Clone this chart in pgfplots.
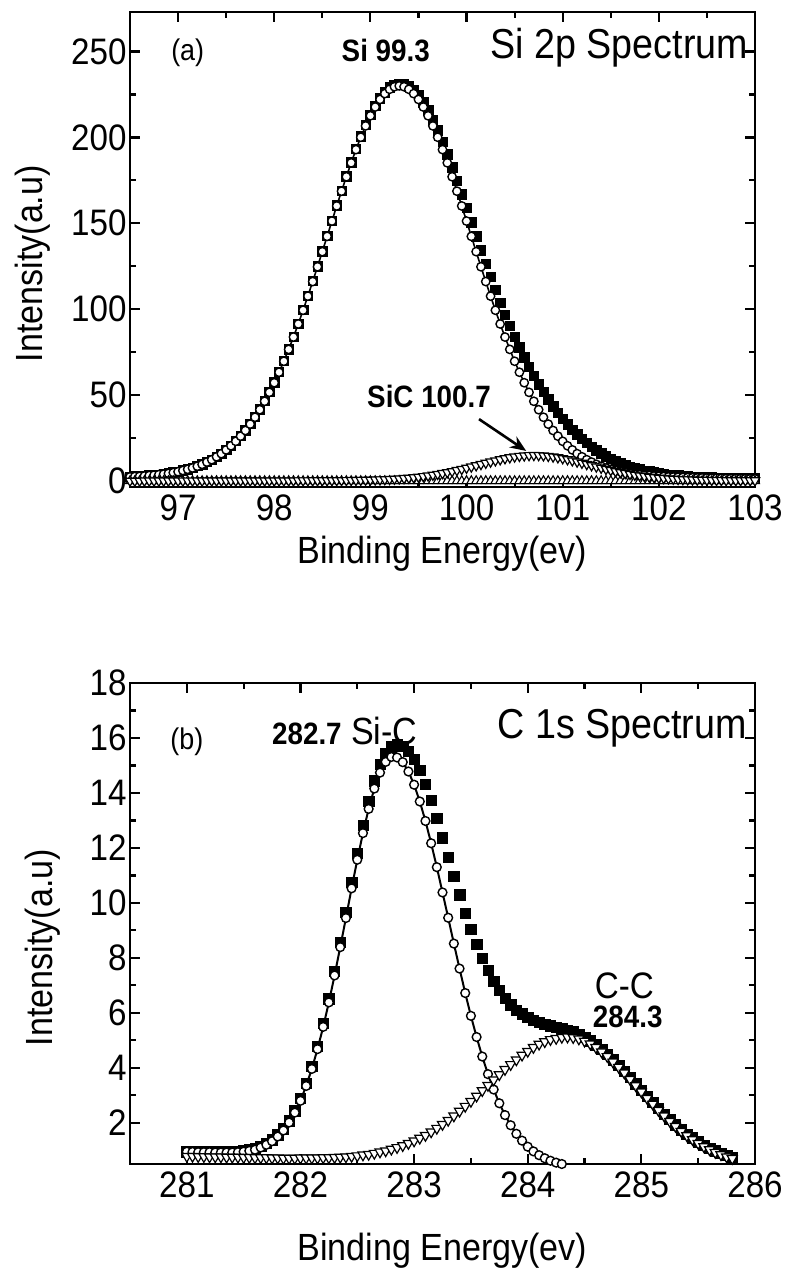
\documentclass[border=0pt]{standalone}
\usepackage{pgfplots}
\pgfplotsset{compat=1.18}
\usepackage{pgfplotstable}
\usepackage{fontspec}
\setmainfont{Liberation Sans}[FakeStretch=0.9]
\usetikzlibrary{arrows.meta}

\pgfplotstableread{
x sq ci tr bl
96.50 2.5 2.4 0.08 0
96.55 2.7 2.6 0.08 0
96.60 2.8 2.7 0.08 0
96.65 3.0 2.9 0.09 0
96.70 3.3 3.2 0.09 0
96.75 3.5 3.4 0.09 0
96.80 3.8 3.7 0.09 0
96.85 4.1 4.0 0.09 0
96.90 4.5 4.4 0.10 0
96.95 5.0 4.9 0.10 0
97.00 5.5 5.4 0.10 0
97.05 6.2 6.1 0.11 0
97.10 6.9 6.8 0.11 0
97.15 7.7 7.6 0.11 0
97.20 8.7 8.6 0.12 0
97.25 9.8 9.7 0.12 0
97.30 11.1 11.0 0.12 0
97.35 12.5 12.4 0.13 0
97.40 14.2 14.1 0.13 0
97.45 16.0 15.9 0.14 0
97.50 18.2 18.1 0.14 0
97.55 20.6 20.5 0.15 0
97.60 23.3 23.1 0.15 0
97.65 26.3 26.1 0.15 0
97.70 29.6 29.4 0.16 0
97.75 33.3 33.1 0.16 0
97.80 37.3 37.1 0.17 0
97.85 41.7 41.5 0.17 0
97.90 46.6 46.4 0.18 0
97.95 51.8 51.6 0.18 0
98.00 57.4 57.2 0.19 0
98.05 63.5 63.3 0.19 0
98.10 69.9 69.7 0.20 0
98.15 76.8 76.6 0.21 0
98.20 84.0 83.8 0.22 0
98.25 91.6 91.4 0.23 0
98.30 99.6 99.4 0.24 0
98.35 107.9 107.6 0.25 0
98.40 116.4 116.1 0.26 0
98.45 125.0 124.7 0.27 0
98.50 133.8 133.5 0.29 0
98.55 142.7 142.4 0.31 0
98.60 151.6 151.3 0.33 0
98.65 160.4 160.1 0.35 0
98.70 169.1 168.7 0.37 0
98.75 177.5 177.1 0.40 0
98.80 185.6 185.2 0.44 0
98.85 193.4 192.9 0.48 0
98.90 200.6 200.1 0.53 0
98.95 207.3 206.7 0.58 0
99.00 213.3 212.6 0.65 0
99.05 218.4 217.7 0.73 0
99.10 222.9 222.1 0.82 0
99.15 226.4 225.5 0.93 0
99.20 229.1 228.0 1.06 0
99.25 230.7 229.5 1.21 0
99.30 231.4 230.0 1.39 0
99.35 231.1 229.5 1.59 0
99.40 229.8 228.0 1.82 0
99.45 227.6 225.5 2.09 0
99.50 224.5 222.1 2.39 0
99.55 220.4 217.7 2.72 0
99.60 215.7 212.6 3.10 0
99.65 210.2 206.7 3.52 0
99.70 204.1 200.1 3.98 0
99.75 197.4 192.9 4.48 0
99.80 190.2 185.2 5.03 0
99.85 182.7 177.1 5.61 0
99.90 174.9 168.7 6.23 0
99.95 167.0 160.1 6.89 0
100.00 158.9 151.3 7.58 0
100.05 150.7 142.4 8.28 0
100.10 142.5 133.5 9.01 0
100.15 134.4 124.7 9.74 0
100.20 126.6 116.1 10.47 0
100.25 118.8 107.6 11.18 0
100.30 111.3 99.4 11.87 0
100.35 103.9 91.4 12.52 0
100.40 96.9 83.8 13.12 0
100.45 90.3 76.6 13.66 0
100.50 83.8 69.7 14.13 0
100.55 77.8 63.3 14.50 0
100.60 72.0 57.2 14.77 0
100.65 66.5 51.6 14.94 0
100.70 61.4 46.4 15.00 0
100.75 56.4 41.5 14.94 0
100.80 51.9 37.1 14.77 0
100.85 47.6 33.1 14.50 0
100.90 43.5 29.4 14.13 0
100.95 39.8 26.1 13.66 0
101.00 36.2 23.1 13.12 0
101.05 33.0 20.5 12.52 0
101.10 30.0 18.1 11.87 0
101.15 27.1 15.9 11.18 0
101.20 24.6 14.1 10.47 0
101.25 22.1 12.4 9.74 0
101.30 20.0 11.0 9.01 0
101.35 18.0 9.7 8.28 0
101.40 16.2 8.6 7.58 0
101.45 14.5 7.6 6.89 0
101.50 13.0 6.8 6.23 0
101.55 11.7 6.1 5.61 0
101.60 10.4 5.4 5.03 0
101.65 9.4 4.9 4.48 0
101.70 8.4 4.4 3.98 0
101.75 7.5 4.0 3.52 0
101.80 6.8 3.7 3.10 0
101.85 6.1 3.4 2.72 0
101.90 5.6 3.2 2.39 0
101.95 5.0 2.9 2.09 0
102.00 4.5 2.7 1.82 0
102.05 4.2 2.6 1.59 0
102.10 3.8 2.4 1.39 0
102.15 3.5 2.3 1.21 0
102.20 3.3 2.2 1.06 0
102.25 3.0 2.1 0.93 0
102.30 2.8 2.0 0.82 0
102.35 2.6 1.9 0.73 0
102.40 2.5 1.8 0.65 0
102.45 2.4 1.8 0.58 0
102.50 2.2 1.7 0.53 0
102.55 2.1 1.65 0.48 0
102.60 2.0 1.6 0.44 0
102.65 1.95 1.55 0.40 0
102.70 1.9 1.5 0.37 0
102.75 1.8 1.47 0.34 0
102.80 1.75 1.43 0.32 0
102.85 1.7 1.39 0.31 0
102.90 1.65 1.35 0.30 0
102.95 1.6 1.32 0.29 0
103.00 1.6 1.29 0.28 0
}\tabA

\pgfplotstableread{
x sq ci tr
281.00 0.95 0.95 0.78
281.05 0.95 0.94 0.78
281.10 0.94 0.93 0.77
281.15 0.94 0.93 0.77
281.20 0.94 0.93 0.76
281.25 0.93 0.92 0.76
281.30 0.94 0.92 0.76
281.35 0.94 0.92 0.75
281.40 0.95 0.92 0.75
281.45 0.96 0.93 0.75
281.50 0.99 0.95 0.74
281.55 1.02 0.98 0.74
281.60 1.07 1.02 0.73
281.65 1.14 1.10 0.73
281.70 1.25 1.20 0.73
281.75 1.38 1.33 0.72
281.80 1.56 1.50 0.72
281.85 1.78 1.72 0.71
281.90 2.08 2.01 0.71
281.95 2.44 2.37 0.71
282.00 2.89 2.80 0.72
282.05 3.43 3.34 0.72
282.10 4.06 3.96 0.72
282.15 4.79 4.68 0.72
282.20 5.62 5.49 0.73
282.25 6.52 6.38 0.73
282.30 7.52 7.36 0.74
282.35 8.57 8.39 0.75
282.40 9.65 9.45 0.76
282.45 10.75 10.53 0.78
282.50 11.81 11.57 0.80
282.55 12.82 12.54 0.83
282.60 13.70 13.42 0.85
282.65 14.45 14.16 0.89
282.70 15.05 14.74 0.94
282.75 15.45 15.13 0.98
282.80 15.68 15.31 1.04
282.85 15.76 15.29 1.10
282.90 15.70 15.12 1.17
282.95 15.52 14.78 1.25
283.00 15.22 14.30 1.34
283.05 14.82 13.69 1.44
283.10 14.32 12.98 1.54
283.15 13.74 12.17 1.67
283.20 13.07 11.30 1.80
283.25 12.37 10.38 1.94
283.30 11.66 9.46 2.09
283.35 10.96 8.52 2.25
283.40 10.29 7.61 2.42
283.45 9.63 6.72 2.60
283.50 9.04 5.89 2.78
283.55 8.49 5.12 2.97
283.60 7.99 4.41 3.17
283.65 7.54 3.77 3.36
283.70 7.16 3.21 3.56
283.75 6.82 2.71 3.75
283.80 6.54 2.28 3.94
283.85 6.29 1.91 4.12
283.90 6.10 1.60 4.29
283.95 5.96 1.35 4.46
284.00 5.83 1.13 4.60
284.05 5.73 0.96 4.74
284.10 5.66 0.82 4.86
284.15 5.58 0.71 4.95
284.20 5.53 0.62 5.03
284.25 5.47 0.55 5.07
284.30 5.44 0.50 5.11
284.35 5.37 nan 5.12
284.40 5.32 nan 5.10
284.45 5.22 nan 5.05
284.50 5.12 nan 4.97
284.55 4.99 nan 4.87
284.60 4.84 nan 4.74
284.65 4.67 nan 4.58
284.70 4.49 nan 4.41
284.75 4.29 nan 4.21
284.80 4.10 nan 4.02
284.85 3.88 nan 3.81
284.90 3.65 nan 3.58
284.95 3.42 nan 3.35
285.00 3.19 nan 3.12
285.05 2.96 nan 2.89
285.10 2.74 nan 2.68
285.15 2.52 nan 2.45
285.20 2.31 nan 2.25
285.25 2.12 nan 2.05
285.30 1.93 nan 1.87
285.35 1.75 nan 1.69
285.40 1.59 nan 1.53
285.45 1.45 nan 1.39
285.50 1.31 nan 1.25
285.55 1.19 nan 1.13
285.60 1.07 nan 1.02
285.65 0.98 nan 0.92
285.70 0.89 nan 0.84
285.75 0.82 nan 0.76
285.80 0.75 nan 0.70
}\tabB

\pgfplotsset{
  spec/.style={
    scale only axis, width=625bp,
    axis line style={line width=2.4bp},
    tick style={line width=2.2bp, black},
    major tick length=10bp, minor tick length=6bp,
    tick align=inside,
    minor x tick num=1, minor y tick num=1,
    xtick pos=both, ytick pos=both,
    ticklabel style={font=\fontsize{37}{40}\selectfont},
    xticklabel style={yshift=-4bp},
    /pgf/number format/assume math mode=true,
    /pgf/number format/1000 sep={},
    label style={font=\fontsize{38}{42}\selectfont},
    ylabel={Intensity(a.u)},
    xlabel={Binding Energy(ev)},
  },
  sqs/.style={only marks, mark=square*, mark size=#1, mark options={fill=black, draw=black, line width=0.5bp}},
  cis/.style={black, line width=1.6bp, mark=*, mark size=#1, mark options={fill=white, draw=black, line width=1.4bp}},
  trd/.style={only marks, mark=triangle*, mark size=#1, mark options={rotate=180, fill=white, draw=black, line width=1.2bp}},
  tru/.style={only marks, mark=triangle*, mark size=#1, mark options={fill=white, draw=black, line width=1.1bp}},
}

\begin{document}
\begin{tikzpicture}
\path[use as bounding box] (0,0) rectangle (791bp,-1276bp);

\begin{axis}[spec,
  at={(130bp,-487bp)}, anchor=south west, height=475bp,
  xmin=96.5, xmax=103, ymin=-3.5, ymax=273,
  xtick={97,98,...,103}, ytick={0,50,...,250},
  xlabel style={at={(axis description cs:0.5,-0.14)}, anchor=center},
  ylabel style={at={(axis description cs:-0.155,0.47)}, anchor=center},
]
\addplot[sqs=4.7bp] table[x=x,y=sq]{\tabA};
\addplot[cis=4.2bp] table[x=x,y=ci]{\tabA};
\addplot[tru=5.2bp] table[x=x,y=bl]{\tabA};
\addplot[trd=5.4bp] table[x=x,y=tr]{\tabA};
\node[font=\fontsize{30}{32}\selectfont] at (axis cs:97.1,249) {(a)};
\node[font=\fontsize{31}{33}\selectfont\bfseries] at (axis cs:99.16,250.5) {Si 99.3};
\node[font=\fontsize{42}{44}\selectfont, anchor=east, inner sep=0pt] at (axis cs:102.93,252) {Si 2p Spectrum};
\node[font=\fontsize{31}{33}\selectfont\bfseries] at (axis cs:99.61,49) {SiC 100.7};
\draw[-{Stealth[length=16bp,width=13bp]}, line width=2.6bp] (axis cs:100.13,36) -- (axis cs:100.62,17.5);
\end{axis}

\begin{axis}[spec,
  at={(130bp,-1164bp)}, anchor=south west, height=481bp,
  xmin=280.5, xmax=286, ymin=0.5, ymax=18,
  xtick={281,282,...,286}, ytick={2,4,...,18},
  xlabel style={at={(axis description cs:0.5,-0.18)}, anchor=center},
  ylabel style={at={(axis description cs:-0.139,0.45)}, anchor=center},
]
\addplot[sqs=5.2bp] table[x=x,y=sq]{\tabB};
\addplot[cis=4.4bp, line width=2bp] table[x=x,y=ci]{\tabB};
\addplot[trd=5.8bp] table[x=x,y=tr]{\tabB};
\node[font=\fontsize{30}{32}\selectfont] at (axis cs:281.0,15.85) {(b)};
\node[font=\fontsize{38}{40}\selectfont] at (axis cs:282.39,16.25) {{\fontsize{31}{33}\selectfont\bfseries 282.7} Si-C};
\node[font=\fontsize{42}{44}\selectfont, anchor=east, inner sep=0pt] at (axis cs:285.93,16.36) {C 1s Spectrum};
\node[font=\fontsize{37}{40}\selectfont] at (axis cs:284.85,7.0) {C-C};
\node[font=\fontsize{31}{33}\selectfont\bfseries] at (axis cs:284.88,5.85) {284.3};
\end{axis}
\end{tikzpicture}
\end{document}
